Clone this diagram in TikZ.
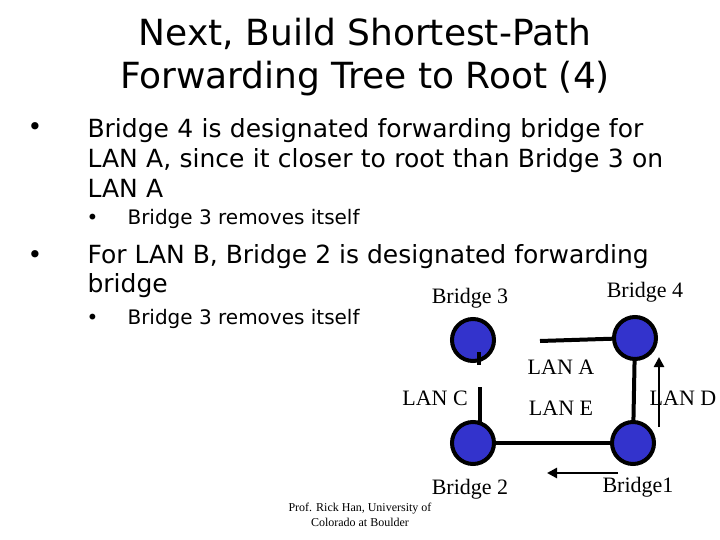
\documentclass[tikz,border=0pt]{standalone}
\usepackage{fontspec}
\usetikzlibrary{arrows.meta}
\setmainfont{Liberation Serif}
\newfontfamily\comic{DejaVu Sans}
\definecolor{bfill}{RGB}{51,51,204}
\begin{document}
\begin{tikzpicture}[x=1pt,y=-1pt,
 br/.style={circle,draw=black,line width=4pt,fill=bfill,minimum size=42pt,inner sep=0pt},
 lan/.style={line width=4pt},
 lbl/.style={font=\fontsize{22}{24}\selectfont},
 body/.style={font=\comic\fontsize{25}{30}\selectfont,anchor=west,align=left},
 sub/.style={font=\comic\fontsize{20}{22}\selectfont,anchor=west},
 arr/.style={line width=2.5pt,-{Triangle[length=10pt,width=10pt]}}]
\useasboundingbox (0,0) rectangle (720,540);
\node[font=\comic\fontsize{36}{43}\selectfont,align=center] (title) at (365,57) {Next, Build Shortest-Path\\Forwarding Tree to Root (4)};
\node[body] (b1m) at (24,129) {•};
\node[body,text width=640pt] (b1) at (84,158) {Bridge 4 is designated forwarding bridge for\\LAN A, since it closer to root than Bridge 3 on\\LAN A};
\node[sub] (s1m) at (83,219) {•};
\node[sub] (s1) at (124,219) {Bridge 3 removes itself};
\node[body] (b2m) at (24,257) {•};
\node[body] (b2) at (84,257) {For LAN B, Bridge 2 is designated forwarding};
\node[body] (b2b) at (84,286) {bridge};
\node[sub] (s2m) at (83,319) {•};
\node[sub] (s2) at (124,319) {Bridge 3 removes itself};

\node[br] (B3) at (473,340) {};
\node[br] (B4) at (635,338) {};
\node[br] (B2) at (473,443) {};
\node[br] (B1) at (633,443) {};
\coordinate (a0) at (540,341);
\draw[lan] (a0) -- (B4);
\coordinate (c0) at (479,352); \coordinate (c1) at (479,365);
\draw[lan] (c0) -- (c1);
\coordinate (c2) at (480,387); \coordinate (c3) at (480,424);
\draw[lan] (c2) -- (c3);
\draw[lan] (B4) -- (B1);
\draw[lan] (B2) -- (B1);
\coordinate (u0) at (659,427); \coordinate (u1) at (659,357);
\draw[arr] (u0) -- (u1);
\coordinate (l0) at (618,473); \coordinate (l1) at (547,473);
\draw[arr] (l0) -- (l1);

\node[lbl] (t3) at (470,298) {Bridge 3};
\node[lbl] (t4) at (645,292) {Bridge 4};
\node[lbl] (tA) at (561,367) {LAN A};
\node[lbl] (tC) at (435,398) {LAN C};
\node[lbl] (tE) at (561,408) {LAN E};
\node[lbl] (tD) at (683,398) {LAN D};
\node[lbl] (t2) at (470,489) {Bridge 2};
\node[lbl] (t1) at (638,487) {Bridge1};
\node[font=\fontsize{12}{15}\selectfont,align=center] (prof) at (360,515) {Prof. Rick Han, University of\\Colorado at Boulder};
\end{tikzpicture}
\end{document}
